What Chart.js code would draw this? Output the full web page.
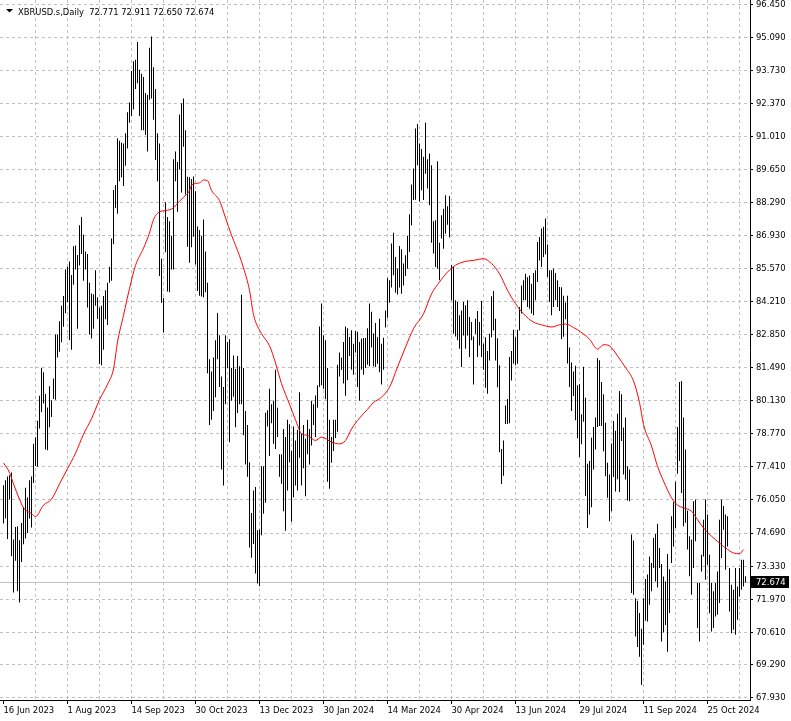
<!DOCTYPE html>
<html><head><meta charset="utf-8">
<script src="https://cdn.jsdelivr.net/npm/chart.js@4.4.1/dist/chart.umd.min.js"></script>
<style>html,body{margin:0;padding:0;background:#fff;overflow:hidden}#wrap{width:791px;height:721px;position:relative}</style>
</head><body><div id="wrap"><canvas id="c" width="791" height="721"></canvas></div>
<script>
const symbolTitle = 'XBRUSD.s,Daily';
const lastBar = [72.771, 72.911, 72.650, 72.674]; // open high low close
const dateLabels = ['16 Jun 2023','1 Aug 2023','14 Sep 2023','30 Oct 2023','13 Dec 2023','30 Jan 2024','14 Mar 2024','30 Apr 2024','13 Jun 2024','29 Jul 2024','11 Sep 2024','25 Oct 2024'];
const dateLabelIdx = [0,32,64,96,128,160,192,224,256,288,320,352];
const gridIdx = [16,32,48,64,80,96,112,128,144,160,176,192,208,224,240,256,272,288,304,320,336,352,368];
const priceTickLabels = ['96.450','95.090','93.730','92.370','91.010','89.650','88.290','86.930','85.570','84.210','82.850','81.490','80.130','78.770','77.410','76.050','74.690','73.330','71.970','70.610','69.290','67.930'];
const highs = [
76.66,76.86,77.02,77.07,77.18,74.42,74.94,74.97,74.39,75.10,75.76,76.55,76.15,76.86,77.02,78.36,78.63,79.31,80.34,81.49,
81.31,80.41,79.86,80.73,80.15,81.05,82.86,82.86,83.41,84.04,84.44,85.54,85.65,85.86,85.31,86.49,86.52,86.13,87.36,87.70,
86.96,86.28,86.17,84.99,84.55,84.52,85.50,84.39,83.97,84.04,84.44,84.68,84.99,85.65,86.81,88.81,89.01,90.94,90.83,90.75,
90.72,91.14,92.01,92.41,93.70,94.10,94.17,94.90,93.75,93.59,93.46,92.80,92.72,94.66,95.12,93.86,92.96,91.14,90.72,85.98,
84.36,88.30,87.70,87.52,86.92,90.07,90.39,89.96,91.90,92.38,92.57,91.27,89.35,89.33,89.26,89.36,88.76,87.30,87.16,86.92,
87.59,86.28,84.99,81.84,81.34,81.91,82.62,83.75,82.83,81.13,80.70,82.83,82.55,82.66,81.48,82.00,81.44,81.98,81.55,84.50,
81.48,79.71,79.14,77.60,75.52,76.44,76.58,74.81,74.84,77.44,77.44,79.64,79.74,80.63,79.99,80.13,81.41,79.85,77.93,77.93,
78.97,78.64,79.35,79.17,78.07,79.07,78.50,78.93,80.48,78.78,79.14,78.57,79.35,78.97,80.13,79.99,80.35,80.77,83.19,84.14,
82.83,82.62,81.48,79.35,78.64,79.35,79.35,81.62,82.12,81.91,82.55,83.19,83.12,82.76,83.04,82.48,83.00,82.97,82.55,82.69,
82.72,82.72,83.12,84.14,83.80,82.90,83.33,82.75,83.51,82.48,82.73,83.85,85.19,85.09,86.60,87.05,86.05,85.57,86.50,86.37,
85.78,86.12,86.92,87.81,89.03,89.69,91.34,91.52,90.72,90.49,90.17,91.57,90.07,90.31,89.83,87.52,87.56,89.99,86.64,87.77,
88.04,88.59,88.14,88.56,85.71,85.67,84.27,84.20,83.65,83.85,84.20,84.06,84.27,83.58,83.37,82.78,83.51,83.83,83.37,84.24,
82.48,82.75,82.18,82.89,84.43,84.65,83.51,82.71,81.59,78.15,78.50,79.94,80.21,81.93,82.18,83.06,82.75,83.06,83.99,84.88,
85.09,85.36,85.22,85.29,84.95,85.39,85.50,86.67,86.87,87.22,87.29,87.63,86.56,85.50,85.50,85.57,85.39,85.09,84.81,84.80,
84.46,84.18,84.46,82.33,81.71,81.34,81.57,80.77,80.81,79.58,81.53,80.26,77.54,77.65,78.61,79.05,79.44,81.89,81.80,80.91,
80.40,79.23,77.58,77.10,78.37,79.30,78.90,79.60,80.54,80.40,79.03,79.44,77.44,77.31,74.63,74.38,72.01,71.90,71.40,70.75,
72.01,72.80,72.98,73.73,73.46,74.49,74.65,75.07,74.07,73.42,72.90,72.70,73.83,73.20,75.38,75.97,76.80,79.05,80.91,80.95,
79.44,78.13,75.62,74.56,74.42,76.00,76.07,72.63,72.63,73.80,75.24,76.07,75.45,73.80,72.63,72.29,72.63,73.11,75.24,76.07,
75.80,75.45,75.38,73.25,72.56,72.36,73.25,72.49,73.25,73.59,73.59,72.911];
const lows = [
75.08,75.29,74.45,76.07,73.74,72.24,73.55,72.29,71.83,73.50,74.23,74.47,74.69,75.29,74.92,76.75,77.45,77.42,78.99,79.66,
80.02,78.13,78.10,79.04,79.47,80.21,80.18,81.91,82.15,82.54,83.18,83.73,84.20,82.62,82.23,84.91,85.54,83.10,85.70,86.17,
85.07,85.54,83.97,82.86,82.70,83.10,84.04,83.50,81.65,81.60,82.23,83.49,83.25,84.99,85.07,86.57,88.07,87.83,89.17,89.33,
88.97,89.80,90.51,91.57,91.85,92.12,92.96,93.20,91.85,91.27,91.27,91.07,90.39,92.52,92.57,91.70,90.04,89.17,85.27,84.17,
82.94,86.25,84.63,84.60,85.54,85.54,89.17,87.91,89.65,88.70,90.59,88.62,86.47,85.81,86.45,86.88,85.74,84.65,84.46,84.42,
84.39,84.60,81.27,79.14,79.35,79.71,80.28,81.84,80.70,77.30,76.65,79.99,81.48,78.43,80.13,80.30,79.04,79.63,79.99,79.99,
78.71,77.51,77.01,74.10,73.67,74.24,73.03,72.61,72.50,74.60,75.48,75.94,79.07,77.86,79.21,78.36,78.15,78.64,77.01,76.72,
75.59,74.78,76.44,77.60,75.16,76.16,76.65,76.44,77.79,76.65,77.36,76.20,77.93,77.51,78.29,79.14,78.64,79.85,80.70,80.77,
80.63,80.20,76.80,76.51,77.58,78.07,78.60,78.86,81.13,81.40,80.84,80.34,80.98,81.98,81.41,81.20,82.12,80.70,80.13,81.41,
81.20,81.48,81.62,81.55,82.33,81.55,81.52,81.66,81.31,80.80,81.41,83.15,83.55,84.17,84.79,85.30,84.58,84.51,84.79,84.54,
84.88,85.27,85.57,86.26,87.36,88.39,88.41,89.83,88.32,88.80,88.39,89.48,88.87,88.18,86.64,86.19,85.64,85.57,85.09,86.81,
86.39,87.01,87.38,86.85,84.27,82.89,82.78,82.62,82.27,81.52,82.82,82.27,82.82,81.93,82.62,80.80,82.89,81.93,82.41,81.93,
81.41,80.67,80.42,81.79,82.75,83.03,81.79,80.69,78.01,76.71,77.05,79.18,79.18,79.21,80.97,81.66,81.59,81.66,83.03,83.72,
84.27,84.27,83.99,83.92,83.72,83.65,84.27,85.02,85.91,85.64,86.05,86.16,85.23,84.20,83.65,83.99,84.27,83.99,83.83,82.67,
82.77,83.49,81.67,80.70,79.71,80.33,79.33,78.59,77.82,78.34,79.27,76.21,74.90,75.45,75.75,77.31,78.13,79.05,79.09,79.09,
78.06,77.03,76.14,75.18,75.59,77.00,76.40,76.90,76.38,78.48,77.10,76.89,76.03,76.00,72.22,72.15,70.43,70.00,69.60,68.44,
70.09,71.08,71.05,71.74,72.29,73.25,72.70,72.45,73.25,70.23,70.60,70.91,69.81,71.40,73.46,74.14,74.90,77.13,77.65,76.34,
74.97,75.11,74.01,72.91,72.15,73.25,74.35,70.78,70.23,73.11,73.73,72.77,73.39,71.39,70.64,70.78,71.26,71.33,71.81,73.66,
74.83,73.18,74.14,71.46,70.57,70.71,70.50,71.12,72.08,72.36,72.49,72.650];
const maIdx = [0,3,5,8,10,14,16,20,24,28,32,36,40,44,48,52,55,57,60,63,66,70,73,75,78,81,85,87,90,93,
94,98,100,102,104,108,111,114,118,120,123,125,129,133,136,139,143,146,149,152,156,159,164,168,171,174,178,182,185,
189,193,197,201,205,210,214,218,222,226,231,235,240,244,248,252,256,260,265,269,274,278,
281,285,290,293,297,300,303,307,311,315,318,320,324,327,330,334,337,340,344,347,350,354,358,361,365,368,370];
const maVal = [77.57,77.18,76.71,76.08,75.73,75.49,75.37,75.84,76.08,76.71,77.34,77.97,78.76,79.39,80.18,80.81,81.44,82.55,83.65,84.75,85.70,86.41,87.04,87.59,87.91,87.96,88.07,88.26,88.51,88.78,
89.00,89.10,89.22,89.19,88.79,88.37,87.66,86.95,86.10,85.60,84.68,83.68,82.90,82.40,81.69,80.84,79.99,79.35,78.78,78.71,78.50,78.64,78.43,78.36,78.50,78.97,79.42,79.78,80.06,
80.28,80.69,81.52,82.34,83.10,83.71,84.53,85.02,85.43,85.71,85.87,85.91,85.98,85.78,85.36,84.68,84.13,83.71,83.37,83.26,83.17,83.26,
83.29,83.15,82.88,82.67,82.26,82.44,82.39,81.98,81.50,80.95,80.06,79.16,78.27,77.44,76.83,76.14,75.84,75.73,75.59,75.24,74.90,74.56,74.28,74.08,73.87,73.84,74.01];

const FONT = "'DejaVu Sans Condensed','DejaVu Sans',sans-serif";
const FSIZE = 9.4;
const HSIZE = 9.3;

const mtPlugin = {
  id: 'mt',
  beforeDatasetsDraw(chart) {
    const {ctx, chartArea} = chart;
    const y = Math.round(chart.scales.y.getPixelForValue(lastBar[3])) + 0.5;
    ctx.save();
    ctx.strokeStyle = '#c0c0c0'; ctx.lineWidth = 1;
    ctx.beginPath(); ctx.moveTo(chartArea.left, y); ctx.lineTo(chartArea.right, y); ctx.stroke();
    ctx.restore();
  },
  afterDraw(chart) {
    const {ctx, chartArea} = chart;
    ctx.save();
    ctx.fillStyle = '#000';
    ctx.beginPath(); ctx.moveTo(6, 9); ctx.lineTo(13, 9); ctx.lineTo(9.5, 12.5); ctx.closePath(); ctx.fill();
    ctx.font = HSIZE + 'px ' + FONT;
    ctx.textBaseline = 'alphabetic';
    ctx.fillText(symbolTitle + '  ' + lastBar.map(v => v.toFixed(3)).join(' '), 18, 14.5);
    const y = Math.round(chart.scales.y.getPixelForValue(lastBar[3]));
    ctx.fillRect(chartArea.right + 1, y - 6, 38, 12);
    ctx.fillStyle = '#fff';
    ctx.font = FSIZE + 'px ' + FONT;
    ctx.textBaseline = 'middle';
    ctx.fillText(lastBar[3].toFixed(3), chartArea.right + 6, y + 0.5);
    ctx.restore();
  }
};

new Chart(document.getElementById('c'), {
  data: {
    datasets: [
      {
        type: 'line',
        data: maIdx.map((x, k) => ({x, y: maVal[k]})),
        borderColor: '#ff0000', borderWidth: 1, pointRadius: 0,
        cubicInterpolationMode: 'monotone', order: 0
      },
      {
        type: 'bar',
        data: highs.map((h, i) => ({x: i, y: [lows[i], h]})),
        backgroundColor: '#000', borderWidth: 0, barThickness: 1, inflateAmount: 0, order: 1
      }
    ]
  },
  options: {
    responsive: false, animation: false, devicePixelRatio: 1,
    layout: {padding: 0},
    plugins: {legend: {display: false}, tooltip: {enabled: false}},
    scales: {
      x: {
        type: 'linear', position: 'bottom', min: -1.75, max: 373.25, offset: false,
        afterFit: s => { s.height = 21; s.paddingLeft = 0; s.paddingRight = 0; },
        afterBuildTicks: s => { s.ticks = [0].concat(gridIdx).map(v => ({value: v})); },
        grid: {
          offset: false,
          color: ctx => (ctx.tick && ctx.tick.value === 0) ? 'rgba(0,0,0,0)' : '#c0c0c0',
          lineWidth: 1, drawTicks: true, tickLength: 4,
          tickColor: ctx => (ctx.tick && dateLabelIdx.includes(ctx.tick.value)) ? '#000' : 'rgba(0,0,0,0)',
          tickBorderDash: []
        },
        border: {display: true, color: '#000', width: 1, dash: [3, 3]},
        ticks: {
          autoSkip: false, maxRotation: 0, minRotation: 0, align: 'start', padding: 1,
          color: '#000', font: {family: FONT, size: FSIZE},
          callback: v => { const k = dateLabelIdx.indexOf(v); return k >= 0 ? dateLabels[k] : ''; }
        }
      },
      y: {
        type: 'linear', position: 'right', min: 67.82, max: 96.625,
        afterFit: s => { s.width = 41; s.paddingTop = 0; s.paddingBottom = 0; },
        afterBuildTicks: s => { s.ticks = priceTickLabels.map(t => ({value: parseFloat(t)})); },
        grid: {offset: false, color: '#c0c0c0', lineWidth: 1, drawTicks: true, tickLength: 3, tickColor: '#000', tickBorderDash: []},
        border: {display: true, color: '#000', width: 1, dash: [3, 3]},
        ticks: {
          padding: 3, color: '#000', font: {family: FONT, size: FSIZE},
          callback: v => { const t = priceTickLabels.find(s => Math.abs(parseFloat(s) - v) < 1e-6); return t || ''; }
        }
      }
    }
  },
  plugins: [mtPlugin]
});
</script>
</body></html>
